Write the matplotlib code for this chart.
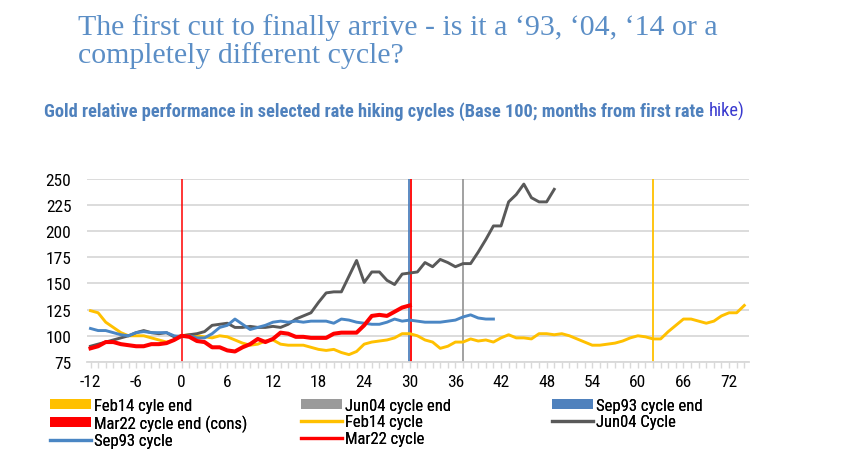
import matplotlib
matplotlib.use("Agg")
import matplotlib.pyplot as plt
from matplotlib import font_manager
from matplotlib.patches import Patch
from matplotlib.lines import Line2D

# months from first rate hike
months_feb14 = list(range(-12, 75))
months_jun04 = list(range(-12, 50))
months_sep93 = list(range(-12, 42))
months_mar22 = list(range(-12, 31))

feb14 = [124, 122, 113, 108, 103, 100, 100, 100, 98, 96, 94, 96,
         100, 101, 100, 99, 98, 100, 99, 96, 93, 91, 92, 95,
         96, 92, 91, 91, 91, 89, 87, 86, 87, 84, 82, 85,
         92, 94, 95, 96, 98, 102, 102, 100, 96, 94, 88, 90,
         94, 94, 97, 95, 96, 94, 98, 101, 98, 98, 97, 102,
         102, 101, 102, 100, 97, 94, 91, 91, 92, 93, 95, 98,
         100, 99, 97, 97, 104, 110, 116, 116, 114, 112, 114, 119,
         122, 122, 129]

jun04 = [90, 92, 94, 96, 98, 100, 103, 105, 103, 102, 103, 99,
         100, 101, 102, 104, 110, 111, 112, 108, 108, 109, 108, 108,
         109, 108, 111, 116, 119, 122, 132, 141, 142, 142, 157, 172,
         151, 161, 161, 153, 149, 159, 160, 161, 170, 166, 173, 170,
         166, 169, 169, 180, 192, 205, 205, 228, 235, 245, 232, 228,
         228, 240]

sep93 = [107, 105, 105, 103, 101, 100, 103, 104, 103, 103, 103, 100,
         99, 100, 98, 98, 102, 108, 110, 116, 111, 106, 108, 110,
         113, 114, 113, 114, 113, 114, 114, 114, 112, 116, 115, 113,
         112, 111, 111, 113, 116, 114, 115, 114, 113, 113, 113, 114,
         115, 118, 120, 117, 116, 116]

mar22 = [88, 90, 94, 94, 92, 91, 90, 90, 92, 92, 93, 96,
         100, 99, 95, 94, 89, 89, 86, 85, 89, 92, 97, 94,
         97, 103, 102, 99, 99, 98, 98, 98, 102, 103, 103, 103,
         110, 119, 120, 119, 123, 127, 129]

# cycle end markers (months)
feb14_end = 62
jun04_end = 37
sep93_end = 30
mar22_end = 30

x_ticks = list(range(-12, 73, 6))
y_ticks = [75, 100, 125, 150, 175, 200, 225, 250]

YELLOW = "#FFC000"
GREY_END = "#9A9A9A"
GREY_LINE = "#595959"
BLUE = "#4A86C4"
BLUE_END = "#4F81BD"
RED = "#FF0000"


def pick_font(names):
    avail = {f.name for f in font_manager.fontManager.ttflist}
    for n in names:
        if n in avail:
            return n
    return "DejaVu Sans"


narrow = pick_font(["Liberation Sans Narrow", "Roboto Condensed", "Liberation Sans", "Arial"])
plt.rcParams["font.family"] = [narrow, "DejaVu Sans"]
plt.rcParams["axes.unicode_minus"] = False

fig = plt.figure(figsize=(8.5, 4.6), dpi=100)
ax = fig.add_axes([0.102, 0.211, 0.779, 0.398])

# cycle end vertical lines
ax.axvline(0, color=RED, lw=1.1, zorder=1)
ax.axvline(sep93_end - 0.15, color=BLUE_END, lw=1.3, zorder=1)
ax.axvline(mar22_end + 0.15, color=RED, lw=1.3, zorder=1)
ax.axvline(jun04_end, color=GREY_END, lw=1.3, zorder=1)
ax.axvline(feb14_end, color=YELLOW, lw=1.3, zorder=1)

ax.plot(months_feb14, feb14, color=YELLOW, lw=2.1, zorder=3)
ax.plot(months_jun04, jun04, color=GREY_LINE, lw=2.1, zorder=3)
ax.plot(months_sep93, sep93, color=BLUE, lw=2.1, zorder=3)
ax.plot(months_mar22, mar22, color=RED, lw=2.9, zorder=4)

ax.set_xlim(-12.5, 74.6)
ax.set_ylim(75, 250)
ax.set_xticks(x_ticks)
ax.set_xticks(range(-12, 75), minor=True)
ax.set_yticks(y_ticks)
ax.yaxis.grid(True, color="#D9D9D9", lw=1.3)
ax.set_axisbelow(True)
for s in ["top", "right", "left"]:
    ax.spines[s].set_visible(False)
ax.spines["bottom"].set_color("#D9D9D9")
ax.spines["bottom"].set_linewidth(1.3)
ax.tick_params(axis="y", length=0, pad=11, labelsize=12.5)
ax.tick_params(axis="x", which="both", length=4, color="#D9D9D9", width=1, labelsize=12.5, pad=5)

# title and subtitle
serif = ["Liberation Serif", "DejaVu Serif"]
fig.text(0.092, 1 - 35 / 460, "The first cut to finally arrive - is it a \u201893, \u201804, \u201814 or a",
         family=serif, fontsize=21.5, color="#5B8EC6", va="baseline")
fig.text(0.092, 1 - 63 / 460, "completely different cycle?",
         family=serif, fontsize=21.5, color="#5B8EC6", va="baseline")

sub = fig.text(0.052, 1 - 117 / 460, "Gold relative performance in selected rate hiking cycles (Base 100; months from first rate ",
               fontsize=13.2, fontweight="bold", color="#4F81BD", va="baseline")
fig.canvas.draw()
bb = sub.get_window_extent()
fig.text(bb.x1 / fig.bbox.width, 1 - 117 / 460, "hike)", fontsize=13.2, color="#3A3ACF", va="baseline")

# legend in three columns
h_feb_end = Patch(facecolor=YELLOW, label="Feb14 cyle end")
h_jun_end = Patch(facecolor=GREY_END, label="Jun04 cycle end")
h_sep_end = Patch(facecolor=BLUE_END, label="Sep93 cycle end")
h_mar_end = Patch(facecolor=RED, label="Mar22 cycle end (cons)")
h_feb = Line2D([], [], color=YELLOW, lw=2.3, label="Feb14 cycle")
h_jun = Line2D([], [], color=GREY_LINE, lw=2.3, label="Jun04 Cycle")
h_sep = Line2D([], [], color=BLUE, lw=2.3, label="Sep93 cycle")
h_mar = Line2D([], [], color=RED, lw=2.3, label="Mar22 cycle")

cols = [([h_feb_end, h_mar_end, h_sep], 50 / 850),
        ([h_jun_end, h_feb, h_mar], 301 / 850),
        ([h_sep_end, h_jun], 552 / 850)]
for handles, xpos in cols:
    leg = fig.legend(handles=handles, loc="upper left", bbox_to_anchor=(xpos, 0.133),
                     frameon=False, fontsize=12, handlelength=2.45, handleheight=0.5,
                     handletextpad=0.2, labelspacing=0.1, borderpad=0, borderaxespad=0)
    fig.add_artist(leg)

fig.savefig("out.png", dpi=100)
